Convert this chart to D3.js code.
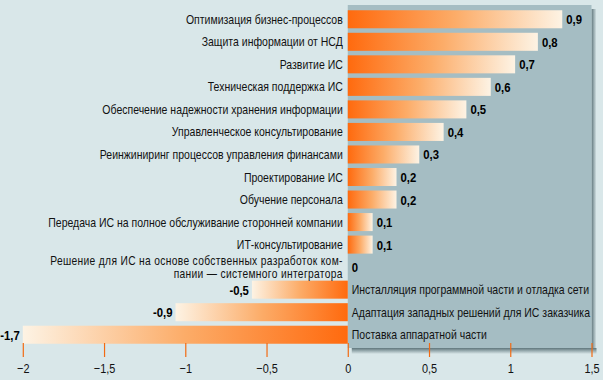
<!DOCTYPE html>
<html><head><meta charset="utf-8">
<script src="https://cdn.jsdelivr.net/npm/d3@7"></script>
<style>
html,body{margin:0;padding:0;background:#d9e7e9;}
svg{display:block;}
text{font-family:"Liberation Sans",Arial,sans-serif;}
</style></head>
<body>
<svg id="c" width="603" height="380"></svg>
<script>
const categories = [
  "Оптимизация бизнес-процессов",
  "Защита информации от НСД",
  "Развитие ИС",
  "Техническая поддержка ИС",
  "Обеспечение надежности хранения информации",
  "Управленческое консультирование",
  "Реинжиниринг процессов управления финансами",
  "Проектирование ИС",
  "Обучение персонала",
  "Передача ИС на полное обслуживание сторонней компании",
  "ИТ-консультирование",
  "Решение для ИС на основе собственных разработок ком-|пании — системного интегратора",
  "Инсталляция программной части и отладка сети",
  "Адаптация западных решений для ИС заказчика",
  "Поставка аппаратной части"
];
// bar lengths as drawn against the axis
const barValues = [1.32, 1.17, 1.03, 0.88, 0.73, 0.59, 0.44, 0.30, 0.30, 0.153, 0.153, 0, -0.59, -1.06, -2.0];
// printed value labels
const valueLabels = ["0,9","0,8","0,7","0,6","0,5","0,4","0,3","0,2","0,2","0,1","0,1","0","-0,5","-0,9","-1,7"];
const tickValues = [-2, -1.5, -1, -0.5, 0, 0.5, 1, 1.5];

const SX = 0.84; // condensed look
const svg = d3.select("#c");
const x = d3.scaleLinear().domain([-2, 1.5]).range([22.8, 591.5]);
const y = d3.scaleBand().domain(d3.range(categories.length)).range([8, 346]).paddingInner(0.2).paddingOuter(0.1);

const defs = svg.append("defs");
function grad(id, x1, x2) {
  const g = defs.append("linearGradient").attr("id", id).attr("x1", x1).attr("x2", x2).attr("y1", "0").attr("y2", "0");
  g.append("stop").attr("offset", "0").attr("stop-color", "#ff6a0e");
  g.append("stop").attr("offset", "0.5").attr("stop-color", "#fcac68");
  g.append("stop").attr("offset", "1").attr("stop-color", "#fdf3e4");
}
grad("gpos", "0", "1");
grad("gneg", "1", "0");
const gShR = defs.append("linearGradient").attr("id","shr").attr("x1","0").attr("x2","1");
gShR.append("stop").attr("offset","0").attr("stop-color","#5f767c");
gShR.append("stop").attr("offset","1").attr("stop-color","#d9e7e9");
const gShB = defs.append("linearGradient").attr("id","shb").attr("x1","0").attr("x2","0").attr("y1","0").attr("y2","1");
gShB.append("stop").attr("offset","0").attr("stop-color","#5f767c");
gShB.append("stop").attr("offset","1").attr("stop-color","#d9e7e9");

const x0 = x(0);
// panel shadow
svg.append("rect").attr("x", x(1.5)).attr("y", 9).attr("width", 5).attr("height", 344).attr("fill","url(#shr)");
svg.append("rect").attr("x", x0 + 4).attr("y", 348).attr("width", x(1.5) - x0 - 4 + 5).attr("height", 6).attr("fill","url(#shb)");
// panel
svg.append("rect").attr("x", x0).attr("y", 5).attr("width", x(1.5) - x0).attr("height", 343).attr("fill","#a5bdc3");

// bars
svg.append("g").selectAll("rect").data(barValues).join("rect")
  .attr("x", d => Math.min(x(d), x0))
  .attr("y", (d,i) => y(i))
  .attr("width", d => Math.abs(x(d) - x0))
  .attr("height", y.bandwidth())
  .attr("fill", d => d >= 0 ? "url(#gpos)" : "url(#gneg)");

function label(parent, px, py, anchor, str, size, weight) {
  return parent.append("g").attr("transform", `translate(${px},${py}) scale(${SX},1)`)
    .append("text").attr("text-anchor", anchor).attr("font-size", size)
    .attr("font-weight", weight).attr("fill", "#111").text(str);
}

// category labels
const cl = svg.append("g");
categories.forEach((c, i) => {
  const v = barValues[i];
  const lines = c.split("|");
  const cy = y(i) + y.bandwidth()/2;
  lines.forEach((ln, k) => {
    label(cl, v < 0 ? x0 + 4 : x0 - 5, cy + 4.5 + (k - (lines.length-1)/2) * 12.5,
      v < 0 ? "start" : "end", ln, lines.length > 1 ? 12.2 : 12.5, "normal")
      .attr("letter-spacing", lines.length > 1 ? 0.4 : 0);
  });
});

// value labels
const vl = svg.append("g");
barValues.forEach((d, i) => {
  label(vl, d > 0 ? x(d) + 4 : d < 0 ? x(d) - 3 : x0 + 4, y(i) + y.bandwidth()/2 + 5,
    d < 0 ? "end" : "start", valueLabels[i], 13.5, "bold").attr("fill", "#000");
});

// axis
const axis = d3.axisBottom(x).tickValues(tickValues).tickSize(14).tickPadding(7)
  .tickFormat(d => (d < 0 ? "\u2212" : "") + String(Math.abs(d)).replace(".", ","));
const ag = svg.append("g").attr("transform", "translate(0,343)").call(axis);
ag.select(".domain").remove();
ag.selectAll(".tick line").attr("stroke", "#f26a12").attr("stroke-width", 1.2);
ag.selectAll(".tick text").attr("fill", "#111").attr("font-size", 13)
  .attr("font-family", "\"Liberation Sans\",Arial,sans-serif")
  .attr("transform", `scale(${SX},1)`);
</script>
</body></html>
